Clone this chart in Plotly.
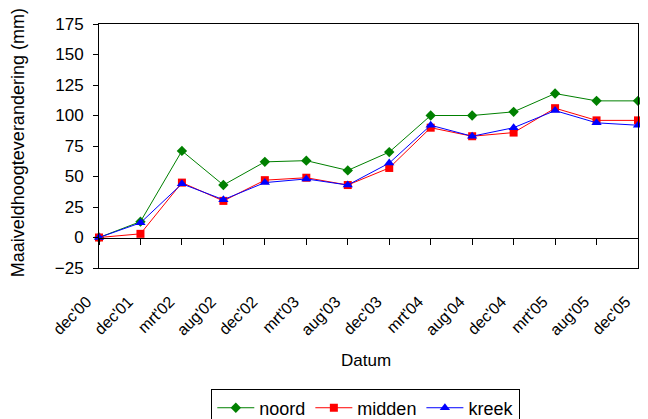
import plotly.graph_objects as go

# ---- Data ----
datums = ["dec'00", "dec'01", "mrt'02", "aug'02", "dec'02", "mrt'03", "aug'03",
          "dec'03", "mrt'04", "aug'04", "dec'04", "mrt'05", "aug'05", "dec'05"]
noord = [0, 13, 71, 43, 62, 63, 55, 70, 100, 100, 103, 118, 112, 112]
midden = [0, 3, 45, 30, 47, 49, 43, 57, 90, 83, 86, 106, 96, 96]
kreek = [0, 12, 44, 31, 45, 48, 43, 61, 92, 83, 90, 104, 94, 92]

FONT = "Liberation Sans, Arial, sans-serif"

fig = go.Figure()

series = [
    ("noord", noord, "#008000", "diamond", 8),
    ("midden", midden, "#FF0000", "square", 8),
    ("kreek", kreek, "#0000FF", "triangle-up", 9),
]
for name, vals, color, symbol, size in series:
    fig.add_trace(go.Scatter(
        x=datums, y=vals, name=name, mode="lines+markers",
        line=dict(color=color, width=1),
        marker=dict(symbol=symbol, size=size, color=color),
        cliponaxis=False,
    ))

# invisible trace to carry the zero-line axis with its ticks
fig.add_trace(go.Scatter(x=datums, y=[0] * len(datums), xaxis="x2",
                         mode="lines", line=dict(width=0),
                         showlegend=False, hoverinfo="skip"))

# page body has an 8px margin; figure is a bit taller than the window so
# the legend fits without pushing the margins
fig.update_layout(
    width=640, height=430,
    margin=dict(l=91, r=10, t=16, b=170),
    paper_bgcolor="white", plot_bgcolor="white",
    font=dict(family=FONT, size=16, color="black"),
    showlegend=True,
    legend=dict(
        orientation="h", x=0.495, xanchor="center", y=-0.494, yanchor="top",
        bordercolor="black", borderwidth=1, font=dict(size=18),
        itemwidth=37,
    ),
    xaxis=dict(
        type="category", range=[0, 13], automargin=False,
        showline=True, mirror=True, linecolor="black", linewidth=1,
        ticks="", tickangle=-45, showgrid=False, zeroline=False,
        tickfont=dict(size=16), ticklabelstandoff=17, ticklabelshift=-12,
    ),
    xaxis2=dict(
        type="category", range=[0, 13], overlaying="x", anchor="free",
        position=0.125, showline=True, linecolor="black", linewidth=1,
        ticks="outside", ticklen=6, tickcolor="black",
        showticklabels=False, showgrid=False, zeroline=False,
    ),
    yaxis=dict(
        range=[-25, 175], dtick=25, tick0=0, automargin=False,
        showline=True, mirror=True, linecolor="black", linewidth=1,
        ticks="outside", ticklen=5, tickcolor="black",
        showgrid=False, zeroline=False,
        tickfont=dict(size=17), ticklabelstandoff=6,
    ),
    annotations=[
        dict(text="Datum", xref="paper", yref="paper", x=0.495, y=-0.381,
             showarrow=False, font=dict(size=17), xanchor="center",
             yanchor="middle"),
        dict(text="Maaiveldhoogteverandering (mm)", xref="paper",
             yref="paper", x=-0.150, y=0.512, textangle=-90,
             showarrow=False, font=dict(size=18), xanchor="center",
             yanchor="middle"),
    ],
)

fig.write_html("out.html")
